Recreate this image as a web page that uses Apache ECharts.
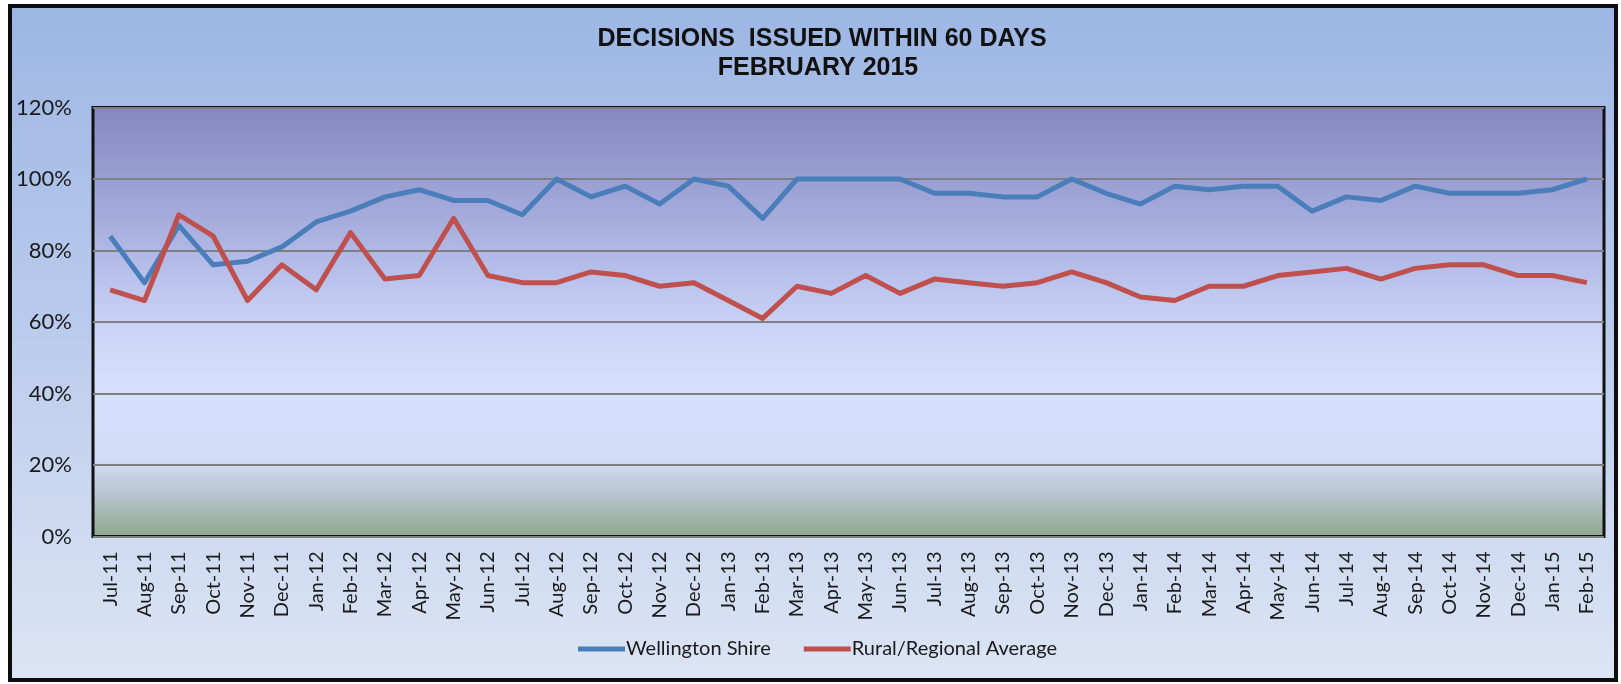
<!DOCTYPE html>
<html>
<head>
<meta charset="utf-8">
<title>Decisions issued within 60 days</title>
<script src="https://cdn.jsdelivr.net/npm/echarts@6/dist/echarts.min.js"></script>
<style>
  html, body { margin: 0; padding: 0; background: #fff; }
  #chart { width: 1621px; height: 684px; }
</style>
</head>
<body>
<div id="chart"></div>
<script>
// months shown on the x axis
const months = [
    'Jul-11', 'Aug-11', 'Sep-11', 'Oct-11', 'Nov-11', 'Dec-11',
    'Jan-12', 'Feb-12', 'Mar-12', 'Apr-12', 'May-12', 'Jun-12',
    'Jul-12', 'Aug-12', 'Sep-12', 'Oct-12', 'Nov-12', 'Dec-12',
    'Jan-13', 'Feb-13', 'Mar-13', 'Apr-13', 'May-13', 'Jun-13',
    'Jul-13', 'Aug-13', 'Sep-13', 'Oct-13', 'Nov-13', 'Dec-13',
    'Jan-14', 'Feb-14', 'Mar-14', 'Apr-14', 'May-14', 'Jun-14',
    'Jul-14', 'Aug-14', 'Sep-14', 'Oct-14', 'Nov-14', 'Dec-14',
    'Jan-15', 'Feb-15'
];

// percentage of decisions made within 60 days
const wellington = [
    84, 71, 87, 76, 77, 81,
    88, 91, 95, 97, 94, 94,
    90, 100, 95, 98, 93, 100,
    98, 89, 100, 100, 100, 100,
    96, 96, 95, 95, 100, 96,
    93, 98, 97, 98, 98, 91,
    95, 94, 98, 96, 96, 96,
    97, 100
];

const ruralAverage = [
    69, 66, 90, 84, 66, 76,
    69, 85, 72, 73, 89, 73,
    71, 71, 74, 73, 70, 71,
    66, 61, 70, 68, 73, 68,
    72, 71, 70, 71, 74, 71,
    67, 66, 70, 70, 73, 74,
    75, 72, 75, 76, 76, 73,
    73, 71
];

const seriesNames = ['Wellington Shire', 'Rural/Regional Average'];
const titleLines = ['DECISIONS  ISSUED WITHIN 60 DAYS', 'FEBRUARY 2015'];

const chartDiv = document.getElementById('chart');
const chart = echarts.init(chartDiv, null, { renderer: 'canvas' });

function vGradient(stops) {
    return {
        type: 'linear', x: 0, y: 0, x2: 0, y2: 1,
        colorStops: stops.map(function (s) { return { offset: s[0], color: s[1] }; })
    };
}

const labelFont = 'Lato, "Open Sans", sans-serif';
const titleStyle = {
    fontFamily: '"Liberation Sans", Arial, sans-serif',
    fontWeight: 'bold',
    fontSize: 25,
    lineHeight: 26,
    color: '#111'
};

const options = {
    animation: false,
    backgroundColor: '#ffffff',
    graphic: [{
        type: 'rect',
        z: -10,
        silent: true,
        shape: { x: 10, y: 6, width: 1606, height: 674 },
        style: {
            fill: vGradient([[0, '#9db6e4'], [0.45, '#b8caec'], [1, '#dde5f4']]),
            stroke: '#0d0d0d',
            lineWidth: 4
        }
    }],
    title: [{
        text: titleLines[0],
        left: 822,
        top: 26,
        textAlign: 'center',
        padding: 0,
        textStyle: titleStyle
    }, {
        text: titleLines[1],
        left: 818,
        top: 55,
        textAlign: 'center',
        padding: 0,
        textStyle: titleStyle
    }],
    legend: {
        data: seriesNames,
        top: 639,
        left: 578,
        padding: 0,
        icon: 'rect',
        itemWidth: 47,
        itemHeight: 5,
        itemGap: 33,
        textStyle: {
            fontFamily: labelFont,
            fontSize: 20,
            color: '#1a1a1a',
            padding: [0, 0, 0, -4]
        }
    },
    grid: {
        left: 93,
        right: 17,
        top: 107.5,
        bottom: 147.5,
        show: true,
        backgroundColor: vGradient([
            [0, '#8587c2'],
            [0.18, '#9ba0d3'],
            [0.36, '#b3bce8'],
            [0.52, '#ccd5f6'],
            [0.65, '#d6dffb'],
            [0.82, '#d3dcf7'],
            [0.9, '#b6c4ce'],
            [1, '#8ea88a']
        ]),
        borderColor: '#111',
        borderWidth: 3
    },
    xAxis: {
        type: 'category',
        data: months,
        boundaryGap: true,
        axisLine: { show: false },
        axisTick: { show: false },
        axisLabel: {
            interval: 0,
            rotate: 90,
            margin: 15,
            fontFamily: labelFont,
            fontSize: 20,
            color: '#1a1a1a'
        }
    },
    yAxis: {
        type: 'value',
        min: 0,
        max: 120,
        interval: 20,
        axisLine: { show: false },
        axisTick: { show: false },
        axisLabel: {
            formatter: '{value}%',
            margin: 21,
            fontFamily: labelFont,
            fontSize: 22,
            color: '#1a1a1a'
        },
        splitLine: {
            lineStyle: { color: '#7f7f7f', width: 2 }
        }
    },
    series: [{
        name: seriesNames[0],
        type: 'line',
        data: wellington,
        symbol: 'none',
        color: '#4a7ebb',
        lineStyle: { width: 5, color: '#4a7ebb', join: 'round' }
    }, {
        name: seriesNames[1],
        type: 'line',
        data: ruralAverage,
        symbol: 'none',
        color: '#c0504d',
        lineStyle: { width: 5, color: '#c0504d', join: 'round' }
    }]
};

chart.setOption(options);
</script>
</body>
</html>
